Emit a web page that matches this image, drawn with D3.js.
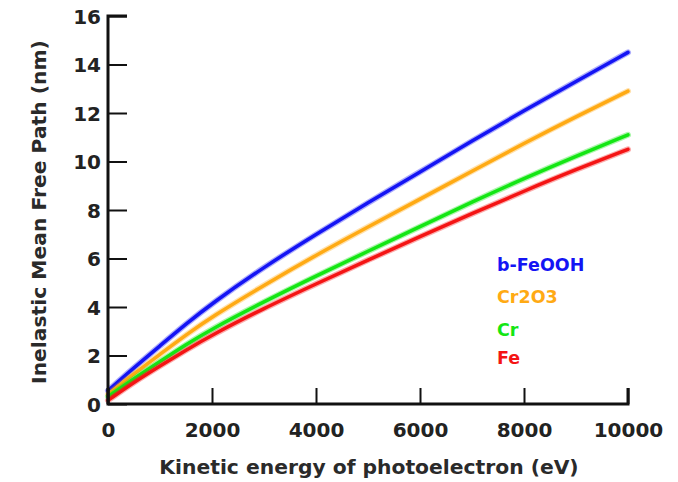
<!DOCTYPE html>
<html><head><meta charset="utf-8">
<script src="https://d3js.org/d3.v7.min.js"></script>
<style>body{margin:0;background:#fff;} svg{display:block;}</style>
</head><body>
<script>
const energy = [0, 500, 1000, 1500, 2000, 3000, 4000, 5000, 6000, 7000, 8000, 9000, 10000];
const feooh = [0.55, 1.5, 2.4, 3.3, 4.15, 5.65, 7.0, 8.3, 9.57, 10.85, 12.1, 13.3, 14.5];
const cr2o3 = [0.4, 1.25, 2.05, 2.85, 3.6, 4.9, 6.14, 7.3, 8.45, 9.6, 10.75, 11.85, 12.9];
const cr = [0.3, 1.05, 1.75, 2.45, 3.1, 4.22, 5.28, 6.3, 7.31, 8.33, 9.3, 10.22, 11.1];
const fe = [0.15, 0.9, 1.57, 2.22, 2.85, 3.95, 4.95, 5.94, 6.9, 7.85, 8.78, 9.67, 10.5];
const seriesNames = ["b-FeOOH", "Cr2O3", "Cr", "Fe"];
const seriesColors = ["#1414f4", "#ffaa14", "#14e614", "#f41414"];
const xTicks = [0, 2000, 4000, 6000, 8000, 10000];
const yTicks = [0, 2, 4, 6, 8, 10, 12, 14, 16];

const W = 678, H = 482;
const svg = d3.select("body").append("svg").attr("width", W).attr("height", H);
const x = d3.scaleLinear().domain([0, 10000]).range([108, 628]);
const y = d3.scaleLinear().domain([0, 16]).range([404, 16]);
const font = "DejaVu Sans, Verdana, sans-serif";

const allSeries = [feooh, cr2o3, cr, fe];
const line = d3.line().x((d, i) => x(energy[i])).y(d => y(d)).curve(d3.curveBasis);
allSeries.forEach((s, k) => {
  svg.append("path").datum(s).attr("d", line).attr("fill", "none")
    .attr("stroke", seriesColors[k]).attr("stroke-opacity", 0.35).attr("stroke-width", 6)
    .attr("stroke-linecap", "round");
  svg.append("path").datum(s).attr("d", line).attr("fill", "none")
    .attr("stroke", seriesColors[k]).attr("stroke-width", 3.5)
    .attr("stroke-linecap", "round");
});

// axes
const gx = svg.append("g").attr("transform", "translate(0,404)")
  .call(d3.axisBottom(x).tickValues(xTicks).tickSize(-16).tickPadding(33).tickFormat(d3.format("d")));
const gy = svg.append("g").attr("transform", "translate(108,0)")
  .call(d3.axisLeft(y).tickValues(yTicks).tickSize(-19).tickPadding(7).tickFormat(d3.format("d")));
[gx, gy].forEach(g => {
  g.select(".domain").attr("stroke", "#111").attr("stroke-width", 3);
  g.selectAll(".tick line").attr("stroke", "#111").attr("stroke-width", 2);
  g.selectAll(".tick text").attr("fill", "#222").style("font-family", font)
    .style("font-size", "20px").style("font-weight", "bold");
});
gx.select(".domain").attr("d", "M108,-16V0H628V-16");
gy.select(".domain").attr("d", "M19,16H0V404");
gx.selectAll(".tick text").attr("dy", "0");
gy.selectAll(".tick text").attr("dy", "0.36em");

svg.append("text").attr("x", 369).attr("y", 474).attr("text-anchor", "middle")
  .style("font-family", font).style("font-size", "20.3px").style("font-weight", "bold").attr("fill", "#2a2a2a")
  .text("Kinetic energy of photoelectron (eV)");
svg.append("text").attr("transform", "translate(46,212) rotate(-90)").attr("text-anchor", "middle")
  .style("font-family", font).style("font-size", "20.3px").style("font-weight", "bold").attr("fill", "#2a2a2a")
  .text("Inelastic Mean Free Path (nm)");

const legY = [265, 297, 330, 358];
seriesNames.forEach((n, k) => {
  svg.append("text").attr("x", 497).attr("y", legY[k]).attr("dy", "0.36em")
    .style("font-family", font).style("font-size", "17.5px").style("font-weight", "bold")
    .attr("fill", seriesColors[k]).text(n);
});
</script>
</body></html>
